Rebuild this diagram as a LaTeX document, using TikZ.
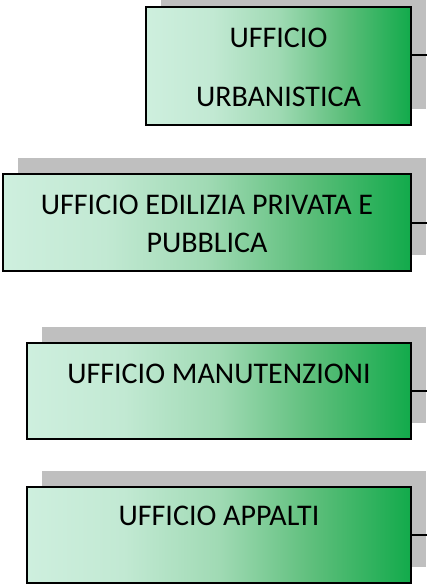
\documentclass[tikz,border=0pt]{standalone}
\usepackage{fontspec}
\setmainfont{Carlito}
\usepackage{tikz}
\usetikzlibrary{positioning, shadows}

\definecolor{shadowgray}{RGB}{191,191,191}
\definecolor{greenA}{RGB}{206,239,222}
\definecolor{greenB}{RGB}{194,233,211}
\definecolor{greenC}{RGB}{160,218,180}
\definecolor{greenD}{RGB}{92,190,122}
\definecolor{greenE}{RGB}{18,170,75}
\pgfdeclarehorizontalshading{officegreen}{100bp}{color(0bp)=(greenA); color(25bp)=(greenA); color(37.5bp)=(greenB); color(50bp)=(greenC); color(62.5bp)=(greenD); color(75bp)=(greenE); color(100bp)=(greenE)}

\begin{document}
\begin{tikzpicture}[x=1pt,y=-1pt]
	\tikzstyle{office}=[draw=black,line width=1.3pt,shading=officegreen,inner sep=0pt,drop shadow={shadow xshift=15pt,shadow yshift=16pt,fill=shadowgray,opacity=1}]
	\tikzstyle{caption}=[font=\fontsize{30}{38}\selectfont,anchor=base,inner sep=0pt]
	\tikzstyle{link}=[line width=1.1pt]
	\path[use as bounding box,clip] (0,0) rectangle (427,584);
	% uffici
	\node[office,minimum width=265pt,minimum height=118pt](urb) at (278.5,66) {};
	\node[office,minimum width=408pt,minimum height=97pt](edi) at (207,222.5) {};
	\node[office,minimum width=384pt,minimum height=96pt](man) at (219,391) {};
	\node[office,minimum width=384pt,minimum height=96pt](app) at (219,535) {};
	% testi
	\node[caption](urb1) at (278.5,47) {UFFICIO};
	\node[caption](urb2) at (278.5,106) {URBANISTICA};
	\node[caption](edi1) at (207,214) {UFFICIO EDILIZIA PRIVATA E};
	\node[caption](edi2) at (207,252) {PUBBLICA};
	\node[caption](man1) at (219,383) {UFFICIO MANUTENZIONI};
	\node[caption](app1) at (219,525) {UFFICIO APPALTI};
	% collegamenti
	\coordinate (urbend) at (427,55);
	\coordinate (ediend) at (427,223);
	\coordinate (manend) at (427,391);
	\coordinate (append) at (427,535);
	\draw[link](urb.east |- urbend) -- (urbend);
	\draw[link](edi.east |- ediend) -- (ediend);
	\draw[link](man.east |- manend) -- (manend);
	\draw[link](app.east |- append) -- (append);
\end{tikzpicture}
\end{document}
